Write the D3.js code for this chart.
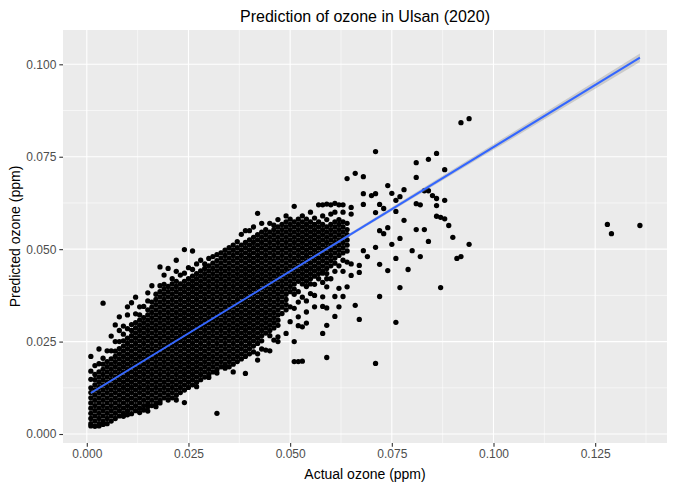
<!DOCTYPE html>
<html>
<head>
<meta charset="utf-8">
<script src="https://cdn.jsdelivr.net/npm/d3@7"></script>
<style>
  body { margin: 0; background: #fff; }
  text { font-family: "Liberation Sans", Arial, sans-serif; }
</style>
</head>
<body>
<script>
// values, in ppb (1 ppb = 0.001 ppm)
var actualPpb = [];
for (var c = 1; c <= 65; c++) actualPpb.push(c);

var predictedPpb = [
  [2.2,2.8,4.2,5.6,7,8.4,9.8,11.2,12.5,14.8,17,21],
  [2.1,3.5,4.9,6.3,7.7,9.1,10.5,11.9,13.3,14.7,16.1,18.5],
  [2.2,2.8,4.2,5.6,7,8.4,9.8,11.2,12.6,14,15.4,16.8,19,23],
  [2.6,3.5,4.9,6.3,7.7,9.1,10.5,11.9,13.3,14.7,16.1,17.5,18.9,20.5,35.4],
  [2.8,4.2,5.6,7,8.4,9.8,11.2,12.6,14,15.4,16.8,18.2,19.6,22.5],
  [3.5,4.9,6.3,7.7,9.1,10.5,11.9,13.3,14.7,16.1,17.5,18.9,20.3,22.5,26.5],
  [4.2,5.6,7,8.4,9.8,11.2,12.6,14,15.4,16.8,18.2,19.6,21,22.4,25,29.5],
  [4.9,6.3,7.7,9.1,10.5,11.9,13.3,14.7,16.1,17.5,18.9,20.3,21.7,23.1,25,28,31.7],
  [4.8,5.6,7,8.4,9.8,11.2,12.6,14,15.4,16.8,18.2,19.6,21,22.4,23.8,25.2,27,29.2],
  [5.2,6.3,7.7,9.1,10.5,11.9,13.3,14.7,16.1,17.5,18.9,20.3,21.7,23.1,24.5,25.9,28.5,32.2,34.4],
  [5.5,7,8.4,9.8,11.2,12.6,14,15.4,16.8,18.2,19.6,21,22.4,23.8,25.2,26.6,28,29.6,35.5],
  [6.3,7.7,9.1,10.5,11.9,13.3,14.7,16.1,17.5,18.9,20.3,21.7,23.1,24.5,25.9,27.3,28.7,30.1,32.5,37],
  [5.8,7,8.4,9.8,11.2,12.6,14,15.4,16.8,18.2,19.6,21,22.4,23.8,25.2,26.6,28,29.4,30.8,32.2,34.4],
  [6.5,7.7,9.1,10.5,11.9,13.3,14.7,16.1,17.5,18.9,20.3,21.7,23.1,24.5,25.9,27.3,28.7,30.1,31.5,34.5],
  [6.2,7.4,8.4,9.8,11.2,12.6,14,15.4,16.8,18.2,19.6,21,22.4,23.8,25.2,26.6,28,29.4,30.8,32.2,33.6,36,38.2],
  [7.7,9.1,10.5,11.9,13.3,14.7,16.1,17.5,18.9,20.3,21.7,23.1,24.5,25.9,27.3,28.7,30.1,31.5,32.9,34.3,35.7,40.1],
  [7.4,8.4,9.8,11.2,12.6,14,15.4,16.8,18.2,19.6,21,22.4,23.8,25.2,26.6,28,29.4,30.8,32.2,33.6,35,36.4,37.8],
  [8.4,9.1,10.5,11.9,13.3,14.7,16.1,17.5,18.9,20.3,21.7,23.1,24.5,25.9,27.3,28.7,30.1,31.5,32.9,34.3,35.7,37.1,38.5,40.1,45.2],
  [9.8,11.2,12.6,14,15.4,16.8,18.2,19.6,21,22.4,23.8,25.2,26.6,28,29.4,30.8,32.2,33.6,35,36.4,37.8,39.2,40.5,43],
  [9.2,10.5,11.9,13.3,14.7,16.1,17.5,18.9,20.3,21.7,23.1,24.5,25.9,27.3,28.7,30.1,31.5,32.9,34.3,35.7,37.1,38.5,39.9,44.8],
  [9.8,11.2,12.6,14,15.4,16.8,18.2,19.6,21,22.4,23.8,25.2,26.6,28,29.4,30.8,32.2,33.6,35,36.4,37.8,39.2,40.6,42],
  [9.2,10.5,11.9,13.3,14.7,16.1,17.5,18.9,20.3,21.7,23.1,24.5,25.9,27.3,28.7,30.1,31.5,32.9,34.3,35.7,37.1,38.5,39.9,41.3,44,47],
  [11.2,12.6,14,15.4,16.8,18.2,19.6,21,22.4,23.8,25.2,26.6,28,29.4,30.8,32.2,33.6,35,36.4,37.8,39.2,40.6,43],
  [8.5,11.9,13.3,14.7,16.1,17.5,18.9,20.3,21.7,23.1,24.5,25.9,27.3,28.7,30.1,31.5,32.9,34.3,35.7,37.1,38.5,39.9,41.3,43.5,49.9],
  [12.6,14,15.4,16.8,18.2,19.6,21,22.4,23.8,25.2,26.6,28,29.4,30.8,32.2,33.6,35,36.4,37.8,39.2,40.6,42,45],
  [13.3,14.7,16.1,17.5,18.9,20.3,21.7,23.1,24.5,25.9,27.3,28.7,30.1,31.5,32.9,34.3,35.7,37.1,38.5,39.9,41.3,42.7,44.5,49.5],
  [12.8,14,15.4,16.8,18.2,19.6,21,22.4,23.8,25.2,26.6,28,29.4,30.8,32.2,33.6,35,36.4,37.8,39.2,40.6,42,43.4,46],
  [14.7,16.1,17.5,18.9,20.3,21.7,23.1,24.5,25.9,27.3,28.7,30.1,31.5,32.9,34.3,35.7,37.1,38.5,39.9,41.3,42.7,44.1,47],
  [15.4,16.8,18.2,19.6,21,22.4,23.8,25.2,26.6,28,29.4,30.8,32.2,33.6,35,36.4,37.8,39.2,40.6,42,43.4,44.8,46],
  [15.3,16.1,17.5,18.9,20.3,21.7,23.1,24.5,25.9,27.3,28.7,30.1,31.5,32.9,34.3,35.7,37.1,38.5,39.9,41.3,42.7,44.1,45.5,47.5],
  [16.8,18.2,19.6,21,22.4,23.8,25.2,26.6,28,29.4,30.8,32.2,33.6,35,36.4,37.8,39.2,40.6,42,43.4,44.8,46.2,48],
  [5.6,16.5,17.5,18.9,20.3,21.7,23.1,24.5,25.9,27.3,28.7,30.1,31.5,32.9,34.3,35.7,37.1,38.5,39.9,41.3,42.7,44.1,45.5,46.9,48.5],
  [18.2,19.6,21,22.4,23.8,25.2,26.6,28,29.4,30.8,32.2,33.6,35,36.4,37.8,39.2,40.6,42,43.4,44.8,46.2,47.6,49],
  [17.8,18.9,20.3,21.7,23.1,24.5,25.9,27.3,28.7,30.1,31.5,32.9,34.3,35.7,37.1,38.5,39.9,41.3,42.7,44.1,45.5,46.9,48.3,49.7],
  [18.2,19.6,21,22.4,23.8,25.2,26.6,28,29.4,30.8,32.2,33.6,35,36.4,37.8,39.2,40.6,42,43.4,44.8,46.2,47.6,49,50.4],
  [16.8,18.9,20.3,21.7,23.1,24.5,25.9,27.3,28.7,30.1,31.5,32.9,34.3,35.7,37.1,38.5,39.9,41.3,42.7,44.1,45.5,46.9,48.3,49.7,51.1],
  [19.6,21,22.4,23.8,25.2,26.6,28,29.4,30.8,32.2,33.6,35,36.4,37.8,39.2,40.6,42,43.4,44.8,46.2,47.6,49,50.4,52],
  [20.3,21.7,23.1,24.5,25.9,27.3,28.7,30.1,31.5,32.9,34.3,35.7,37.1,38.5,39.9,41.3,42.7,44.1,45.5,46.9,48.3,49.7,51.1,54],
  [16.4,21,22.4,23.8,25.2,26.6,28,29.4,30.8,32.2,33.6,35,36.4,37.8,39.2,40.6,42,43.4,44.8,46.2,47.6,49,50.4,51.8,55],
  [21.7,23.1,24.5,25.9,27.3,28.7,30.1,31.5,32.9,34.3,35.7,37.1,38.5,39.9,41.3,42.7,44.1,45.5,46.9,48.3,49.7,51.1,52.5,55],
  [22.2,23.8,25.2,26.6,28,29.4,30.8,32.2,33.6,35,36.4,37.8,39.2,40.6,42,43.4,44.8,46.2,47.6,49,50.4,51.8,53.2,56],
  [20,21.7,24.5,25.9,27.3,28.7,30.1,31.5,32.9,34.3,35.7,37.1,38.5,39.9,41.3,42.7,44.1,45.5,46.9,48.3,49.7,51.1,52.5,53.9,59.7],
  [23,25.2,26.6,28,29.4,30.8,32.2,33.6,35,36.4,37.8,39.2,40.6,42,43.4,44.8,46.2,47.6,49,50.4,51.8,53.2,54.6,57],
  [22.7,27.3,28.7,30.1,31.5,32.9,34.3,35.7,37.1,38.5,39.9,41.3,42.7,44.1,45.5,46.9,48.3,49.7,51.1,52.5,53.9,55.3],
  [22.5,26.6,28,29.4,30.8,32.2,33.6,35,36.4,37.8,39.2,40.6,42,43.4,44.8,46.2,47.6,49,50.4,51.8,53.2,54.6,57],
  [25.4,28.7,30.1,31.5,32.9,34.3,35.7,37.1,38.5,39.9,41.3,42.7,44.1,45.5,46.9,48.3,49.7,51.1,52.5,53.9,55.3,56.5],
  [25,26.3,29.4,30.8,32.2,33.6,35,36.4,37.8,39.2,40.6,42,43.4,44.8,46.2,47.6,49,50.4,51.8,53.2,54.6,56,58],
  [32.6,34.3,35.7,37.1,38.5,39.9,41.3,42.7,44.1,45.5,46.9,48.3,49.7,51.1,52.5,53.9,55.3,56.7],
  [27.2,33.6,35,36.4,37.8,39.2,40.6,42,43.4,44.8,46.2,47.6,49,50.4,51.8,53.2,54.6,56,57.4,59],
  [30.4,34.4,38.5,39.9,41.3,42.7,44.1,45.5,46.9,48.3,49.7,51.1,52.5,53.9,55.3,56.7,58.1],
  [19.6,25,34,37.8,39.2,40.6,42,43.4,44.8,46.2,47.6,49,50.4,51.8,53.2,54.6,56,57.4,61.6],
  [19.6,29.3,31.7,35.7,38.5,41.3,42.7,44.1,45.5,46.9,48.3,49.7,51.1,52.5,53.9,55.3,56.7,58.1],
  [19.7,29,37,40.6,42,43.4,44.8,46.2,47.6,49,50.4,51.8,53.2,54.6,56,57.4,59],
  [30,33,36,39.9,41.3,42.7,44.1,45.5,46.9,48.3,49.7,51.1,52.5,53.9,55.3,56.7,58.1],
  [38,40.6,42,43.4,44.8,46.2,47.6,49,50.4,51.8,53.2,54.6,56,57.4,60],
  [34.4,37.5,40.5,42.7,44.1,45.5,46.9,48.3,49.7,51.1,52.5,53.9,55.3,56.7,58.4],
  [42,43.4,44.8,46.2,47.6,49,50.4,51.8,53.2,54.6,56,57.4,62],
  [27.2,34.5,37.1,41,43.5,44.1,45.5,46.9,48.3,49.7,51.1,52.5,53.9,55.3,56.7,59,62],
  [20.7,29.4,34.1,39.8,42,43.4,44.8,46.2,47.6,49,50.4,51.8,53.2,54.6,56,58,62.2],
  [42,45.5,46.9,48.3,49.7,51.1,52.5,53.9,55.3,56.7,59.5,62],
  [31.8,37.2,44,46.2,47.6,49,50.4,51.8,53.2,54.6,56,57.4,60,62.4],
  [34.4,39.4,45.5,48.3,49.7,51.1,52.5,53.9,55.3,56.7,58,62],
  [37.2,44,47,49,50.4,51.8,53.2,54.6,56,57.4,60,62],
  [39.8,46.5,49.5,51.1,52.5,53.9,55.3,57,69.1],
  [42.9,46,59.5,61.3]
];

// the scattered high readings, also in ppb
var outlierActual = [66,66,67,67,67,68,68,68,68,69,70,71,71,71,71,71,72,72,72,72,73,73,74,74,74,
  75,75,76,76,76,76,77,77,77,78,78,79,80,81,81,81,81,82,82,83,83,84,84,84,85,86,86,86,86,
  87,87,88,88,88,89,90,91,92,92,94,94,128,129,136];
var outlierPredicted = [70.5,34.8,31,43.7,45.6,69.6,65,62.1,49.6,48,64.5,76.4,59.9,65,50.5,19.1,
  62.1,55,45.9,37.2,54.2,61,67.2,44.2,55.8,65.1,51.3,63.2,60.2,47.5,30.2,64.2,52.9,39.6,66.1,
  57.8,44.5,49.6,73.4,69.4,62.3,55.3,62,48,65.8,55.3,74.3,65.8,52.1,64.5,75.9,63.7,61.8,58.9,
  58.6,39.6,71.5,63.2,58.2,56.4,53.2,47.5,84.2,48,85.3,51.3,56.7,54.2,56.4];

// fitted line and its standard error band (ppb)
var fitActual = [1, 136];
var fitPredicted = [11.1, 101.8];
var seActual = [1, 15, 30, 50, 75, 100, 136];
var seHalf = [0.35, 0.2, 0.15, 0.25, 0.5, 0.75, 1.15];

var xTicks = [0, 0.025, 0.05, 0.075, 0.1, 0.125];
var yTicks = [0, 0.025, 0.05, 0.075, 0.1];
var xMinor = [0.0125, 0.0375, 0.0625, 0.0875, 0.1125, 0.1375];
var yMinor = [0.0125, 0.0375, 0.0625, 0.0875];

var width = 675,
    height = 490,
    panel = {left: 63, right: 667, top: 30, bottom: 443};

var svg = d3.select("body").append("svg")
    .attr("width", width)
    .attr("height", height);

var x = d3.scaleLinear()
    .domain([-0.00585, 0.14266])
    .range([panel.left, panel.right]);

var y = d3.scaleLinear()
    .domain([-0.00243, 0.10928])
    .range([panel.bottom, panel.top]);

var ppm = function(v) { return v / 1000; };

svg.append("rect")
    .attr("x", panel.left)
    .attr("y", panel.top)
    .attr("width", panel.right - panel.left)
    .attr("height", panel.bottom - panel.top)
    .attr("fill", "#ebebeb");

var grid = svg.append("g").attr("class", "grid");

grid.selectAll(".vminor").data(xMinor).enter().append("line")
    .attr("x1", x).attr("x2", x)
    .attr("y1", panel.top).attr("y2", panel.bottom)
    .attr("stroke", "#fff").attr("stroke-width", 0.55);
grid.selectAll(".hminor").data(yMinor).enter().append("line")
    .attr("y1", y).attr("y2", y)
    .attr("x1", panel.left).attr("x2", panel.right)
    .attr("stroke", "#fff").attr("stroke-width", 0.55);
grid.selectAll(".vmajor").data(xTicks).enter().append("line")
    .attr("x1", x).attr("x2", x)
    .attr("y1", panel.top).attr("y2", panel.bottom)
    .attr("stroke", "#fff").attr("stroke-width", 1.1);
grid.selectAll(".hmajor").data(yTicks).enter().append("line")
    .attr("y1", y).attr("y2", y)
    .attr("x1", panel.left).attr("x2", panel.right)
    .attr("stroke", "#fff").attr("stroke-width", 1.1);

// points
var points = [];
actualPpb.forEach(function(a, i) {
  predictedPpb[i].forEach(function(p) { points.push([a, p]); });
});
outlierActual.forEach(function(a, i) { points.push([a, outlierPredicted[i]]); });

svg.append("g")
    .attr("class", "points")
  .selectAll("circle")
    .data(points)
  .enter().append("circle")
    .attr("cx", function(d) { return x(ppm(d[0])); })
    .attr("cy", function(d) { return y(ppm(d[1])); })
    .attr("r", 2.65)
    .attr("fill", "#000");

// smooth: ribbon then line
var fitAt = function(a) {
  var t = (a - fitActual[0]) / (fitActual[1] - fitActual[0]);
  return fitPredicted[0] + t * (fitPredicted[1] - fitPredicted[0]);
};

svg.append("path")
    .datum(seActual.map(function(a, i) { return [a, seHalf[i]]; }))
    .attr("fill", "#999999")
    .attr("fill-opacity", 0.4)
    .attr("d", d3.area()
      .curve(d3.curveMonotoneX)
      .x(function(d) { return x(ppm(d[0])); })
      .y0(function(d) { return y(ppm(fitAt(d[0]) - d[1])); })
      .y1(function(d) { return y(ppm(fitAt(d[0]) + d[1])); }));

svg.append("path")
    .datum(fitActual.map(function(a, i) { return [a, fitPredicted[i]]; }))
    .attr("fill", "none")
    .attr("stroke", "#3366ff")
    .attr("stroke-width", 2)
    .attr("d", d3.line()
      .x(function(d) { return x(ppm(d[0])); })
      .y(function(d) { return y(ppm(d[1])); }));

// axes
var fmt = d3.format(".3f");

var xAxis = svg.append("g")
    .attr("transform", "translate(0," + panel.bottom + ")")
    .call(d3.axisBottom(x).tickValues(xTicks).tickFormat(fmt).tickSizeOuter(0).tickSize(3.7).tickPadding(3));
var yAxis = svg.append("g")
    .attr("transform", "translate(" + panel.left + ",0)")
    .call(d3.axisLeft(y).tickValues(yTicks).tickFormat(fmt).tickSizeOuter(0).tickSize(3.7).tickPadding(3));

[xAxis, yAxis].forEach(function(g) {
  g.select(".domain").remove();
  g.selectAll(".tick line").attr("stroke", "#333333").attr("stroke-width", 1.1);
  g.selectAll(".tick text")
    .attr("fill", "#4d4d4d")
    .style("font-size", "12px")
    .style("font-family", "'Liberation Sans', Arial, sans-serif");
});

svg.append("text")
    .attr("x", (panel.left + panel.right) / 2)
    .attr("y", 22)
    .attr("text-anchor", "middle")
    .style("font-size", "16px")
    .attr("fill", "#000")
    .text("Prediction of ozone in Ulsan (2020)");

svg.append("text")
    .attr("x", (panel.left + panel.right) / 2)
    .attr("y", 479)
    .attr("text-anchor", "middle")
    .style("font-size", "14px")
    .attr("fill", "#000")
    .text("Actual ozone (ppm)");

svg.append("text")
    .attr("transform", "translate(20," + ((panel.top + panel.bottom) / 2) + ") rotate(-90)")
    .attr("text-anchor", "middle")
    .style("font-size", "14px")
    .attr("fill", "#000")
    .text("Predicted ozone (ppm)");
</script>
</body>
</html>
